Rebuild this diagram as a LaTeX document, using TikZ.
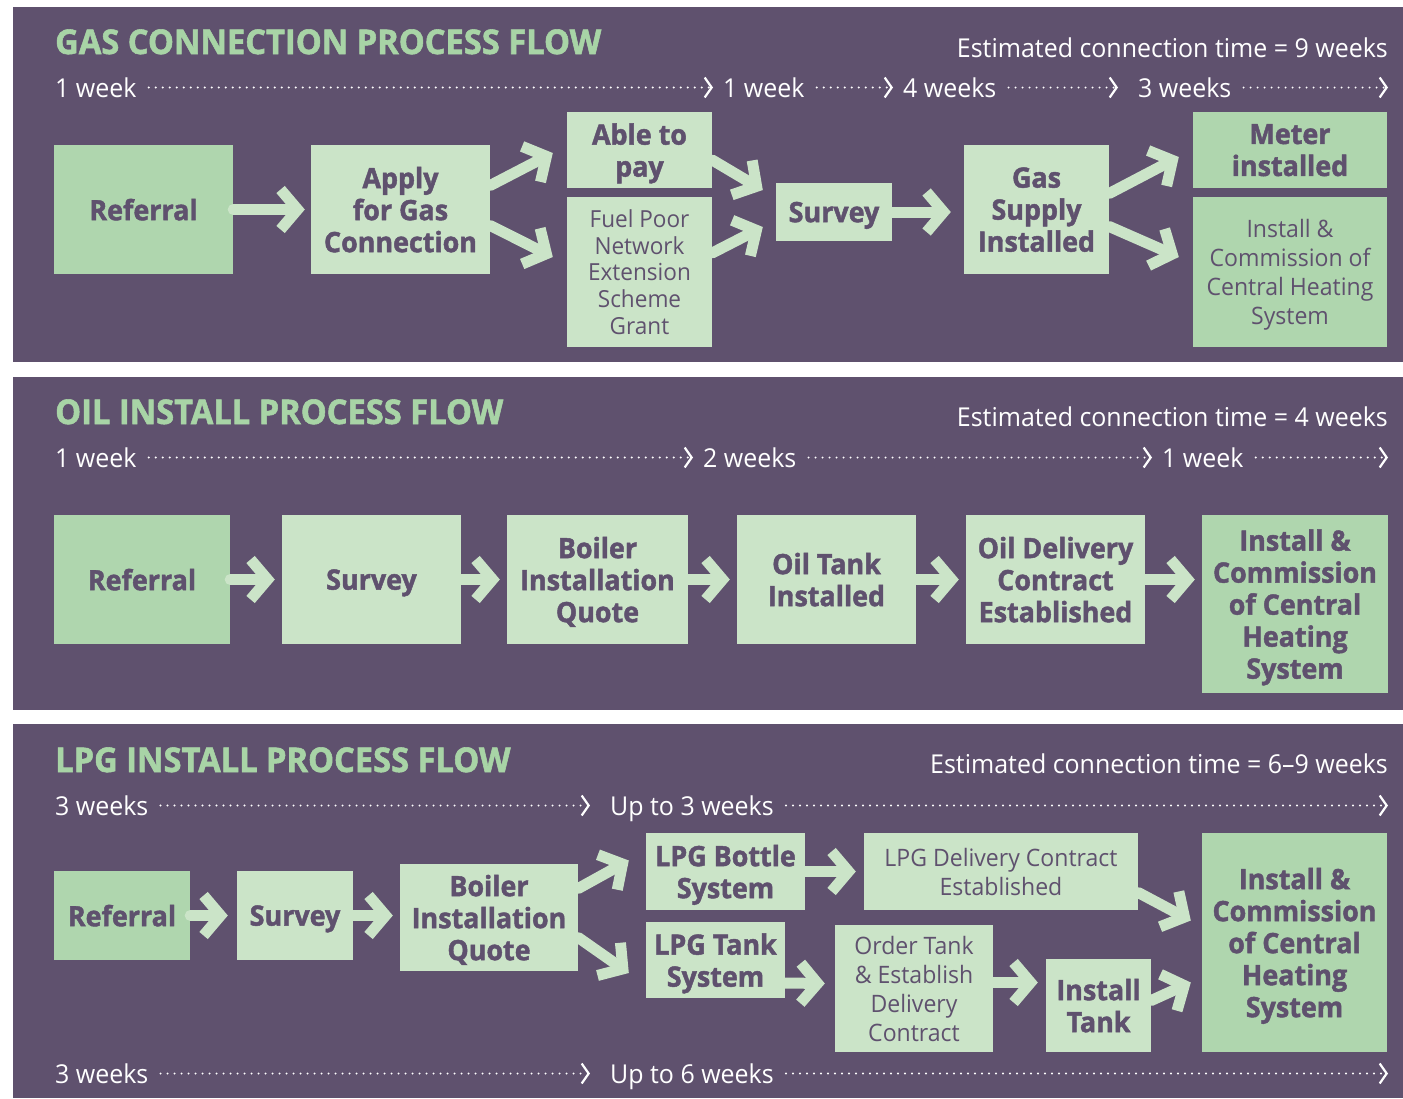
\documentclass[tikz,border=0pt]{standalone}
\usepackage{fontspec}
\setmainfont{Open Sans}[FakeStretch=0.96, BoldFeatures={FakeBold=1.6}]
\usetikzlibrary{arrows.meta, positioning, calc}
\definecolor{purp}{HTML}{5F516E}
\definecolor{dgreen}{HTML}{AFD6AE}
\definecolor{lgreen}{HTML}{CBE4C8}
\definecolor{tgreen}{HTML}{A8D4A6}

\tikzset{
    panel/.style={fill=purp, draw=none},
    box/.style={rectangle, inner sep=0pt, align=center, text=purp, text depth=0pt,
        font=\fontsize{28}{32}\selectfont\bfseries},
    dbox/.style={box, fill=dgreen},
    lbox/.style={box, fill=lgreen},
    plain/.style={font=\fontsize{24}{29}\selectfont},
    flow/.style={draw=lgreen, line width=11pt, line cap=round, line join=round,
        -{Straight Barb[length=17pt, width=40pt]}},
    wk/.style={text=white, inner sep=0pt, text height=19pt, text depth=0pt,
        font=\fontsize{26}{30}\selectfont, anchor=base west},
    tline/.style={draw=white, line width=2.2pt, line cap=round, dash pattern=on 0pt off 7pt,
        -{Straight Barb[length=7pt, width=20pt]}, shorten <=12pt, shorten >=10pt},
    ttl/.style={text=tgreen, inner sep=0pt, font=\fontsize{34}{36}\selectfont\bfseries, anchor=base west},
    est/.style={text=white, inner sep=0pt, font=\fontsize{26}{30}\selectfont, anchor=base east},
}

\begin{document}
\begin{tikzpicture}[x=1pt, y=-1pt]

    \useasboundingbox[fill=white] (0,0) rectangle (1403,1098);

    % gas
    \fill[panel] (13,7) rectangle (1403,362);
    \node[ttl] (gtitle) at (55,54) {GAS CONNECTION PROCESS FLOW};
    \node[est] (gest) at (1388,57) {Estimated connection time = 9 weeks};

    \node[wk] (g1) at (55,97) {1 week};
    \node[wk] (g2) at (723,97) {1 week};
    \node[wk] (g3) at (903,97) {4 weeks};
    \node[wk] (g4) at (1138,97) {3 weeks};
    \coordinate (gend) at (1388,87.5);
    \draw[tline] (g1.east) -- (g2.west);
    \draw[tline] (g2.east) -- (g3.west);
    \draw[tline, shorten >=20pt] (g3.east) -- (g4.west);
    \draw[tline, shorten >=0pt] (g4.east) -- (gend);

    \node[dbox, minimum width=179pt, minimum height=129pt] (gref) at (143.5,209.5) {Referral};
    \node[lbox, minimum width=179pt, minimum height=129pt] (gapp) at (400.5,209.5) {Apply\\for Gas\\Connection};
    \node[lbox, minimum width=145pt, minimum height=76pt] (gpay) at (639.5,150) {Able to\\pay};
    \node[lbox, plain, font=\fontsize{23.5}{26.8}\selectfont, minimum width=145pt, minimum height=150pt] (gfuel) at (639.5,272)
        {Fuel Poor\\Network\\Extension\\Scheme\\Grant};
    \node[lbox, minimum width=116pt, minimum height=58pt] (gsur) at (834,212) {Survey};
    \node[lbox, minimum width=145pt, minimum height=129pt] (gsup) at (1036.5,209.5) {Gas\\Supply\\Installed};
    \node[dbox, minimum width=194pt, minimum height=76pt] (gmet) at (1290,150) {Meter\\installed};
    \node[dbox, plain, minimum width=194pt, minimum height=150pt] (gich) at (1290,272)
        {Install \&\\Commission of\\Central Heating\\System};

    \draw[flow, shorten >=6pt] (gref.east) -- (gapp.west);
    \draw[flow] ($(gapp.east)+(0,-24)$) -- ($(gpay.west)+(-14,3)$);
    \draw[flow] ($(gapp.east)+(0,16)$) -- ($(gfuel.west)+(-14,-15)$);
    \draw[flow] ($(gpay.east)+(0,10)$) -- ($(gsur.west)+(-13,-22)$);
    \draw[flow] ($(gfuel.east)+(0,-19)$) -- ($(gsur.west)+(-13,15)$);
    \draw[flow, shorten >=13pt] (gsur.east) -- (gsur.east -| gsup.west);
    \draw[flow] ($(gsup.east)+(0,-16)$) -- ($(gmet.west)+(-14,7)$);
    \draw[flow] ($(gsup.east)+(0,17)$) -- ($(gich.west)+(-14,-15)$);

    % oil
    \fill[panel] (13,377) rectangle (1403,710);
    \node[ttl] (otitle) at (55,424) {OIL INSTALL PROCESS FLOW};
    \node[est] (oest) at (1388,426) {Estimated connection time = 4 weeks};

    \node[wk] (o1) at (55,467) {1 week};
    \node[wk] (o2) at (703,467) {2 weeks};
    \node[wk] (o3) at (1162,467) {1 week};
    \coordinate (oend) at (1388,457.5);
    \draw[tline] (o1.east) -- (o2.west);
    \draw[tline] (o2.east) -- (o3.west);
    \draw[tline, shorten >=0pt] (o3.east) -- (oend);

    \node[dbox, minimum width=176pt, minimum height=129pt] (oref) at (142,579.5) {Referral};
    \node[lbox, minimum width=179pt, minimum height=129pt] (osur) at (371.5,579.5) {Survey};
    \node[lbox, minimum width=181pt, minimum height=129pt] (oboi) at (597.5,579.5) {Boiler\\Installation\\Quote};
    \node[lbox, minimum width=179pt, minimum height=129pt] (otank) at (826.5,579.5) {Oil Tank\\Installed};
    \node[lbox, minimum width=179pt, minimum height=129pt] (odel) at (1055.5,579.5) {Oil Delivery\\Contract\\Established};
    \node[dbox, minimum width=186pt, minimum height=178pt] (oich) at (1295,604)
        {Install \&\\Commission\\of Central\\Heating\\System};

    \foreach \a/\b in {oref/osur, osur/oboi, oboi/otank, otank/odel}
        \draw[flow, shorten >=7pt] (\a.east) -- (\b.west);
    \draw[flow, shorten >=7pt] (odel.east) -- (odel.east -| oich.west);

    % lpg
    \fill[panel] (13,724) rectangle (1403,1098);
    \node[ttl] (ltitle) at (55,772) {LPG INSTALL PROCESS FLOW};
    \node[est] (lest) at (1388,773) {Estimated connection time = 6--9 weeks};

    \node[wk] (l1) at (55,815) {3 weeks};
    \node[wk] (l2) at (610,815) {Up to 3 weeks};
    \coordinate (lend) at (1388,805.5);
    \draw[tline, shorten >=20pt] (l1.east) -- (l2.west);
    \draw[tline, shorten >=0pt] (l2.east) -- (lend);

    \node[wk] (l3) at (55,1083) {3 weeks};
    \node[wk] (l4) at (610,1083) {Up to 6 weeks};
    \coordinate (lend2) at (1388,1073.5);
    \draw[tline, shorten >=20pt] (l3.east) -- (l4.west);
    \draw[tline, shorten >=0pt] (l4.east) -- (lend2);

    \node[dbox, minimum width=136pt, minimum height=89pt] (lref) at (122,915.5) {Referral};
    \node[lbox, minimum width=116pt, minimum height=89pt] (lsur) at (295,915.5) {Survey};
    \node[lbox, minimum width=178pt, minimum height=107pt] (lboi) at (489,917.5) {Boiler\\Installation\\Quote};
    \node[lbox, minimum width=159pt, minimum height=77pt] (lbot) at (725.5,871.5) {LPG Bottle\\System};
    \node[lbox, minimum width=139pt, minimum height=76pt] (ltank) at (715.5,960) {LPG Tank\\System};
    \node[lbox, plain, minimum width=274pt, minimum height=77pt] (ldel) at (1001,871.5)
        {LPG Delivery Contract\\Established};
    \node[lbox, plain, minimum width=158pt, minimum height=127pt] (lord) at (914,988.5)
        {Order Tank\\\& Establish\\Delivery\\Contract};
    \node[lbox, minimum width=105pt, minimum height=93pt] (linst) at (1098.5,1005.5) {Install\\Tank};
    \node[dbox, minimum width=185pt, minimum height=219pt] (lich) at (1294.5,942.5)
        {Install \&\\Commission\\of Central\\Heating\\System};

    \draw[flow, shorten >=9pt] (lref.east) -- (lsur.west);
    \draw[flow, shorten >=7pt] (lsur.east) -- (lsur.east -| lboi.west);
    \draw[flow] ($(lboi.east)+(0,-29)$) -- ($(lbot.west)+(-17,-11)$);
    \draw[flow] ($(lboi.east)+(0,20)$) -- ($(ltank.west)+(-17,13)$);
    \draw[flow, shorten >=8pt] (lbot.east) -- (ldel.west);
    \draw[flow] ($(ltank.east)+(0,23)$) -- ($(lord.west)+(-10,-5)$);
    \draw[flow] ($(lord.east)+(0,-6)$) -- ($(linst.west)+(-8,-23)$);
    \draw[flow] ($(ldel.east)+(0,21)$) -- ($(lich.west)+(-11,-22)$);
    \draw[flow] ($(linst.east)+(0,-5)$) -- ($(lich.west)+(-11,40)$);

\end{tikzpicture}
\end{document}
